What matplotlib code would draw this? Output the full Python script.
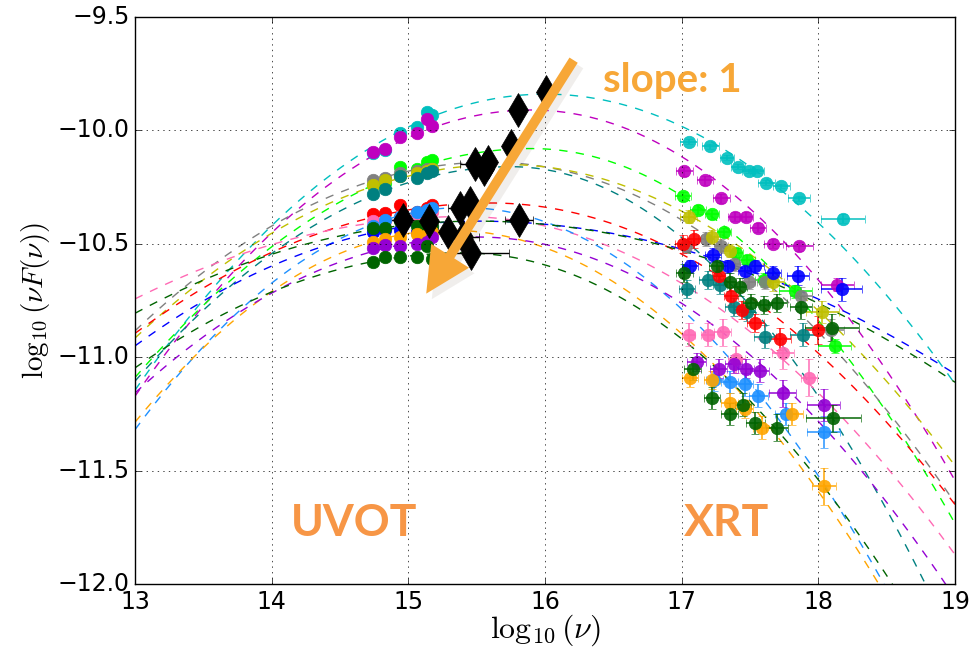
"""
Broadband SED snapshots: UVOT + XRT points with log-parabola fits.
"""

import matplotlib
matplotlib.use("Agg")
import matplotlib.pyplot as plt
import matplotlib.patheffects as pe
from matplotlib.patches import FancyArrowPatch
import numpy as np

# one entry per observation (colour of points and of its fitted curve)
SERIES_COLORS = ["c", "m", "lime", "gray", "y", "teal", "red", "hotpink",
                 "dodgerblue", "blue", "darkgreen", "orange", "darkviolet", "darkgreen"]

# log-parabola fit: peak position, peak value, curvature left / right of the peak
CURVE_PEAK_X = [16.00, 15.90, 15.90, 15.60, 15.70, 15.75, 15.60, 15.40,
                15.40, 15.50, 15.50, 15.30, 15.50, 15.40]
CURVE_PEAK_Y = [-9.84, -9.91, -10.08, -10.14, -10.15, -10.16, -10.32, -10.38,
                -10.34, -10.40, -10.40, -10.44, -10.47, -10.54]
CURVE_B_LEFT = [0.145, 0.150, 0.120, 0.110, 0.105, 0.125, 0.085, 0.063,
                0.170, 0.088, 0.065, 0.160, 0.110, 0.088]
CURVE_B_RIGHT = [0.142, 0.170, 0.172, 0.130, 0.122, 0.200, 0.115, 0.115,
                 0.175, 0.055, 0.058, 0.158, 0.130, 0.148]

# UVOT filters (V, B, U, W1, M2, W2)
UVOT_NU = [14.74, 14.83, 14.94, 15.06, 15.14, 15.17]
UVOT_FLUX = [
    [-10.10, -10.085, -10.01, -9.985, -9.92, -9.93],
    [-10.095, -10.08, -10.03, -10.01, -9.95, -9.98],
    [-10.24, -10.23, -10.16, -10.17, -10.14, -10.13],
    [-10.22, -10.21, -10.19, -10.18, -10.17, -10.17],
    [-10.24, -10.22, -10.20, -10.19, -10.18, -10.17],
    [-10.28, -10.26, -10.20, -10.21, -10.19, -10.18],
    [-10.37, -10.365, -10.33, -10.36, -10.34, -10.33],
    [-10.40, -10.40, -10.38, -10.37, -10.36, -10.36],
    [-10.42, -10.395, -10.38, -10.36, -10.35, -10.34],
    [-10.45, -10.44, -10.44, -10.45, -10.44, -10.44],
    [-10.43, -10.43, -10.40, -10.42, -10.43, -10.42],
    [-10.49, -10.48, -10.47, -10.455, -10.46, -10.45],
    [-10.52, -10.505, -10.51, -10.50, -10.49, -10.47],
    [-10.58, -10.56, -10.56, -10.56, -10.51, -10.565],
]

# XRT points per observation
XRT_NU = [
    [17.05, 17.21, 17.33, 17.41, 17.49, 17.55, 17.62, 17.73, 17.86, 18.18],
    [17.02, 17.17, 17.29, 17.39, 17.47, 17.56, 17.67, 17.86, 18.14],
    [17.01, 17.12, 17.22, 17.31, 17.40, 17.48, 17.60, 17.83, 18.12],
    [17.03, 17.18, 17.29, 17.38, 17.49, 17.61, 17.87, 18.09],
    [17.05, 17.22, 17.35, 17.67, 18.03],
    [17.04, 17.19, 17.28, 17.38, 17.48, 17.61, 17.89],
    [17.01, 17.09, 17.27, 17.36, 17.44, 17.54, 17.72, 18.00],
    [17.05, 17.19, 17.30, 17.40, 17.74, 17.93],
    [17.24, 17.35, 17.46, 17.56, 17.76, 18.04],
    [17.06, 17.23, 17.34, 17.46, 17.54, 17.67, 17.85, 18.17],
    [17.02, 17.26, 17.35, 17.43, 17.51, 17.60, 17.70, 17.87, 18.10],
    [17.06, 17.22, 17.35, 17.46, 17.59, 17.81, 18.04],
    [17.11, 17.27, 17.38, 17.47, 17.57, 17.74, 18.04],
    [17.08, 17.22, 17.35, 17.45, 17.54, 17.70, 18.11],
]
XRT_FLUX = [
    [-10.05, -10.07, -10.12, -10.16, -10.18, -10.18, -10.23, -10.245, -10.30, -10.39],
    [-10.18, -10.22, -10.30, -10.38, -10.38, -10.43, -10.50, -10.51, -10.68],
    [-10.29, -10.35, -10.37, -10.45, -10.54, -10.57, -10.66, -10.71, -10.95],
    [-10.51, -10.48, -10.51, -10.59, -10.67, -10.67, -10.73, -10.88],
    [-10.38, -10.47, -10.53, -10.67, -10.80],
    [-10.70, -10.66, -10.68, -10.78, -10.80, -10.91, -10.90],
    [-10.50, -10.48, -10.64, -10.73, -10.79, -10.85, -10.92, -10.88],
    [-10.90, -10.90, -10.89, -11.01, -10.98, -11.09],
    [-11.10, -11.11, -11.12, -11.17, -11.25, -11.33],
    [-10.60, -10.55, -10.60, -10.62, -10.60, -10.63, -10.64, -10.70],
    [-10.63, -10.60, -10.67, -10.69, -10.76, -10.77, -10.76, -10.78, -10.87],
    [-11.09, -11.10, -11.20, -11.23, -11.31, -11.25, -11.57],
    [-11.02, -11.05, -11.03, -11.05, -11.06, -11.16, -11.21],
    [-11.05, -11.18, -11.25, -11.21, -11.29, -11.31, -11.27],
]
XRT_NU_ERR = [
    [0.06, 0.06, 0.05, 0.05, 0.05, 0.05, 0.06, 0.06, 0.08, 0.16],
    [0.06, 0.06, 0.06, 0.05, 0.05, 0.06, 0.07, 0.10, 0.12],
    [0.06, 0.06, 0.05, 0.05, 0.05, 0.06, 0.06, 0.12, 0.12],
    [0.06, 0.06, 0.05, 0.05, 0.05, 0.06, 0.08, 0.10],
    [0.06, 0.06, 0.06, 0.08, 0.12],
    [0.06, 0.06, 0.05, 0.06, 0.06, 0.08, 0.10],
    [0.06, 0.05, 0.05, 0.05, 0.06, 0.06, 0.08, 0.10],
    [0.05, 0.05, 0.06, 0.06, 0.08, 0.06],
    [0.06, 0.06, 0.06, 0.07, 0.08, 0.12],
    [0.06, 0.06, 0.05, 0.05, 0.06, 0.06, 0.08, 0.15],
    [0.06, 0.06, 0.05, 0.05, 0.06, 0.06, 0.07, 0.08, 0.20],
    [0.06, 0.06, 0.06, 0.06, 0.07, 0.08, 0.09],
    [0.07, 0.06, 0.06, 0.06, 0.07, 0.10, 0.12],
    [0.06, 0.06, 0.06, 0.06, 0.07, 0.08, 0.20],
]
XRT_FLUX_ERR = [
    [0.01, 0.01, 0.01, 0.01, 0.01, 0.01, 0.01, 0.01, 0.01, 0.02],
    [0.02, 0.02, 0.02, 0.02, 0.02, 0.02, 0.02, 0.02, 0.03],
    [0.02, 0.02, 0.02, 0.02, 0.02, 0.02, 0.03, 0.03, 0.03],
    [0.03, 0.03, 0.03, 0.03, 0.03, 0.03, 0.04, 0.05],
    [0.03, 0.03, 0.03, 0.04, 0.05],
    [0.04, 0.04, 0.04, 0.04, 0.04, 0.05, 0.05],
    [0.04, 0.04, 0.04, 0.04, 0.04, 0.04, 0.05, 0.06],
    [0.05, 0.05, 0.06, 0.06, 0.07, 0.08],
    [0.05, 0.05, 0.05, 0.05, 0.05, 0.07],
    [0.03, 0.03, 0.03, 0.03, 0.03, 0.03, 0.04, 0.05],
    [0.04, 0.04, 0.04, 0.04, 0.04, 0.04, 0.04, 0.05, 0.06],
    [0.04, 0.04, 0.04, 0.04, 0.05, 0.05, 0.08],
    [0.04, 0.04, 0.04, 0.04, 0.05, 0.06, 0.07],
    [0.05, 0.05, 0.05, 0.05, 0.05, 0.06, 0.06],
]

# synchrotron peak positions (black diamonds)
PEAK_NU = [16.01, 15.80, 15.75, 15.49, 15.55, 15.58, 15.38, 15.45,
           14.96, 15.15, 15.29, 15.40, 15.81, 15.46]
PEAK_FLUX = [-9.83, -9.91, -10.07, -10.15, -10.17, -10.14, -10.34, -10.32,
             -10.395, -10.40, -10.45, -10.47, -10.395, -10.54]
PEAK_NU_ERR = [0.02, 0.02, 0.03, 0.11, 0.03, 0.03, 0.09, 0.03,
               0.19, 0.03, 0.03, 0.12, 0.10, 0.28]

ARROW_START = (16.22, -9.68)
ARROW_END = (15.12, -10.73)


def log_parabola(x, xp, yp, bl, br):
    b = np.where(x < xp, bl, br)
    return yp - b * (x - xp) ** 2


plt.style.use("classic")
plt.rcParams["figure.facecolor"] = "white"
plt.rcParams["savefig.facecolor"] = "white"
plt.rcParams["mathtext.fontset"] = "cm"

fig = plt.figure(figsize=(9.75, 6.51), dpi=100)
ax = fig.add_axes([0.1385, 0.1029, 0.841, 0.871])

x_model = np.linspace(13, 19, 400)
for i, col in enumerate(SERIES_COLORS):
    ax.plot(x_model, log_parabola(x_model, CURVE_PEAK_X[i], CURVE_PEAK_Y[i],
                                  CURVE_B_LEFT[i], CURVE_B_RIGHT[i]),
            "--", color=col, lw=1)

for i, col in enumerate(SERIES_COLORS):
    ax.errorbar(UVOT_NU, UVOT_FLUX[i], yerr=0.01, fmt="o", color=col, mec=col,
                ecolor=col, ms=9, capsize=2, elinewidth=1)
    ax.errorbar(XRT_NU[i], XRT_FLUX[i], xerr=XRT_NU_ERR[i], yerr=XRT_FLUX_ERR[i],
                fmt="o", color=col, mec=col, ecolor=col, ms=9, capsize=3,
                elinewidth=1.2, alpha=0.9)

ax.errorbar(PEAK_NU, PEAK_FLUX, xerr=PEAK_NU_ERR, fmt="d", color="k", mec="k",
            ecolor="k", ms=17, capsize=3, elinewidth=1)

arrow = FancyArrowPatch(ARROW_START, ARROW_END,
                        arrowstyle="simple,head_width=2.3,head_length=2.3,tail_width=0.5",
                        mutation_scale=14, color="#F7A737", lw=0, zorder=5,
                        path_effects=[pe.SimplePatchShadow(offset=(4, -4), alpha=0.08),
                                      pe.Normal()])
ax.add_patch(arrow)

ax.text(16.93, -9.78, "slope: 1", color="#F7A737", fontsize=29, fontweight="bold",
        family=["Lato", "DejaVu Sans"], ha="center", va="center")
ax.text(14.6, -11.73, "UVOT", color="#F79646", fontsize=32, fontweight="bold",
        family=["Lato", "DejaVu Sans"], ha="center", va="center")
ax.text(17.33, -11.73, "XRT", color="#F79646", fontsize=32, fontweight="bold",
        family=["Lato", "DejaVu Sans"], ha="center", va="center")

ax.set_xlim(13, 19)
ax.set_ylim(-12, -9.5)
ax.set_xticks(np.arange(13, 20, 1))
ax.set_yticks(np.arange(-12, -9.4, 0.5))
ax.tick_params(labelsize=17)
ax.grid(True)
ax.set_xlabel(r"$\log_{10}(\nu)$", fontsize=23, labelpad=-1)
ax.set_ylabel(r"$\log_{10}(\nu F(\nu))$", fontsize=21, labelpad=4)

fig.savefig("out.png", dpi=100)
